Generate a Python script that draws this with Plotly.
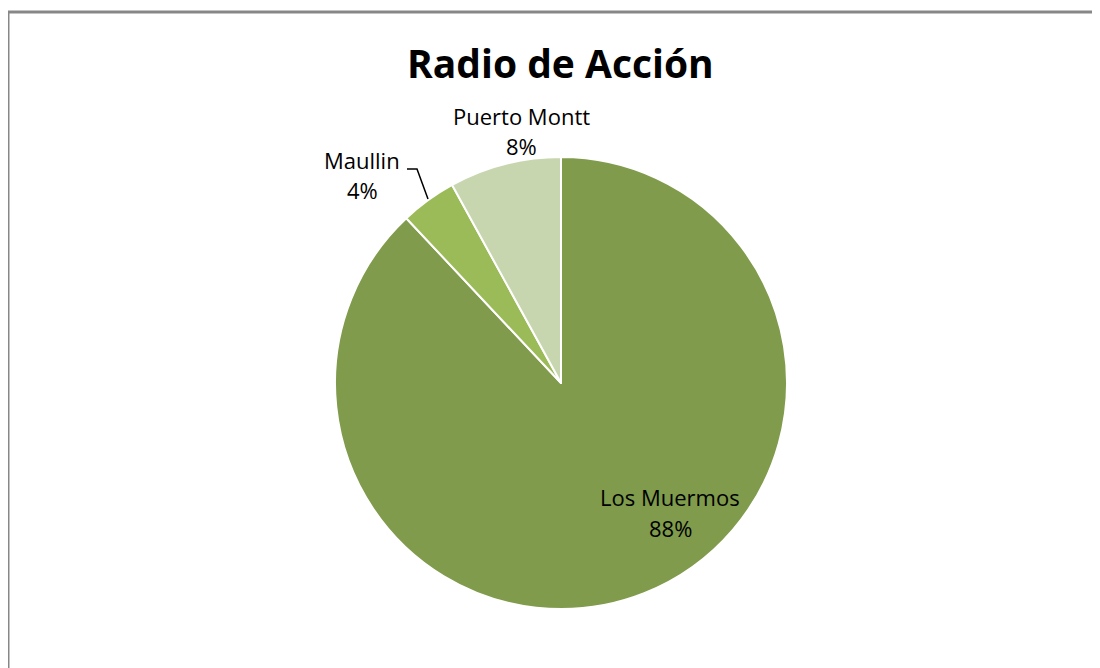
import plotly.graph_objects as go

labels = ["Los Muermos", "Maullin", "Puerto Montt"]
values = [88, 4, 8]
colors = ["#7F9B4B", "#9BBB59", "#C7D6AE"]
title_text = "Radio de Acción"

W, H = 1100, 668
OFF = 8  # page body margin offset
def px(x):
    return (x - OFF) / W
def py(y):
    return 1 - (y - OFF) / H

total = sum(values)
pcts = [f"{round(v * 100 / total)}%" for v in values]

fig = go.Figure()
fig.add_trace(go.Pie(
    labels=labels,
    values=values,
    sort=False,
    direction="clockwise",
    rotation=0,
    marker=dict(colors=colors, line=dict(color="white", width=2)),
    textinfo="none",
    hoverinfo="label+percent",
    showlegend=False,
    domain=dict(x=[px(335), px(787)], y=[py(609), py(157)]),
))

font_family = "Open Sans, Lato, sans-serif"
label_pos = {
    "Los Muermos": (670, 497, 528),
    "Maullin": (362, 160, 190),
    "Puerto Montt": (521, 116, 146),
}
anns = []
for lab, pct in zip(labels, pcts):
    x, y1, y2 = label_pos[lab]
    for txt, yy in ((lab, y1), (pct, y2)):
        anns.append(dict(
            x=px(x), y=py(yy), xref="paper", yref="paper",
            text=txt, showarrow=False, xanchor="center", yanchor="middle",
            font=dict(family=font_family, size=22, color="black"),
        ))
anns.append(dict(
    x=px(560), y=py(62), xref="paper", yref="paper",
    text=f"<b>{title_text}</b>", showarrow=False, xanchor="center", yanchor="middle",
    font=dict(family=font_family, size=39, color="black"),
))

shapes = [
    dict(type="path", xref="paper", yref="paper",
         path=f"M {px(8)} -0.05 L {px(8)} {py(12)} L 1.05 {py(12)}",
         line=dict(color="#878787", width=3)),
    dict(type="path", xref="paper", yref="paper",
         path=f"M {px(407)} {py(169)} L {px(417)} {py(169)} L {px(428)} {py(199)}",
         line=dict(color="black", width=1.5)),
]

fig.update_layout(
    width=W, height=H,
    margin=dict(l=0, r=0, t=0, b=0),
    paper_bgcolor="white",
    plot_bgcolor="white",
    annotations=anns,
    shapes=shapes,
)

fig.write_html("out.html")
